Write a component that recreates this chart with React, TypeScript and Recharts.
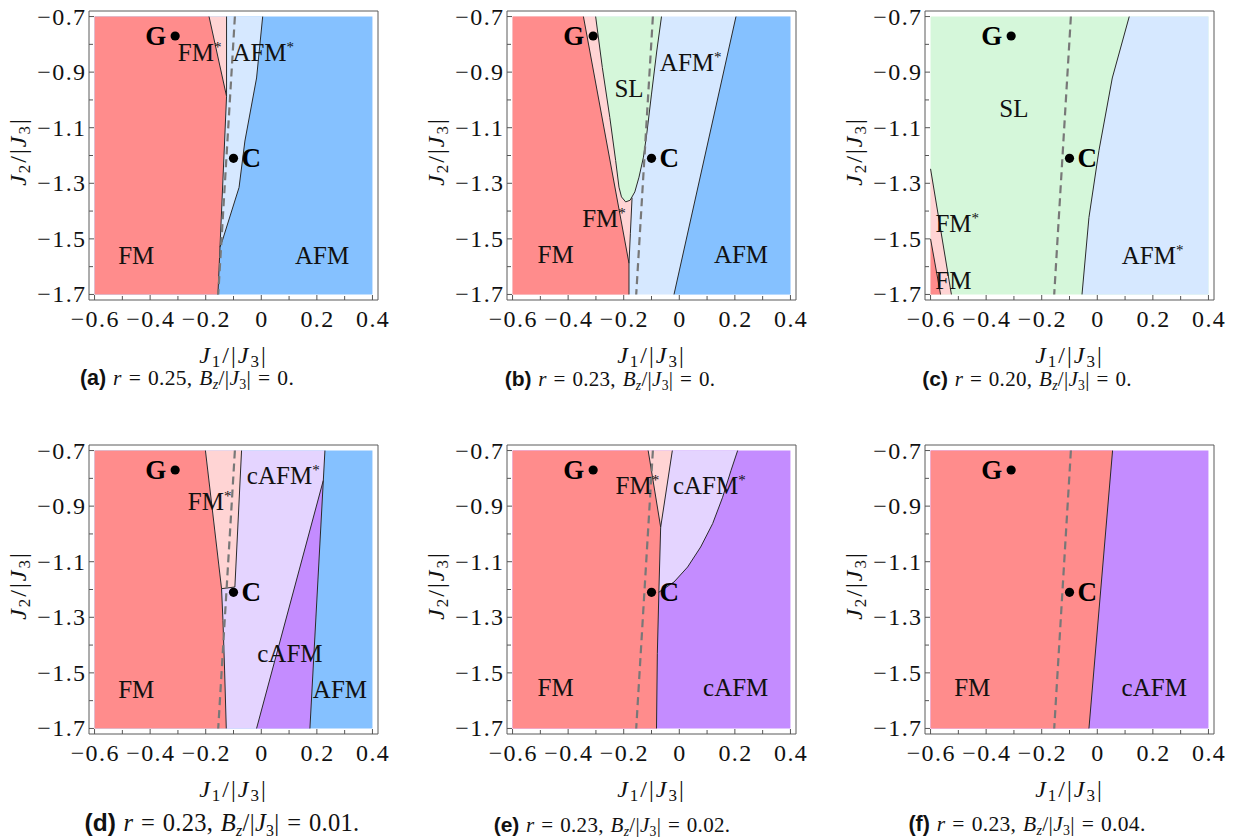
import React from "react";
import { ScatterChart, Scatter, XAxis, YAxis, ReferenceArea, Label } from "recharts";

type Pt = { x: number; y: number };
type Tag = { x: number; y: number; text: string; star?: boolean };

const SERIF = '"Liberation Serif", "DejaVu Serif", serif';
const SANS = '"Liberation Sans", Arial, sans-serif';

const X_TICKS = [-0.6, -0.5, -0.4, -0.3, -0.2, -0.1, 0, 0.1, 0.2, 0.3, 0.4];
const X_LABELS = [-0.6, -0.4, -0.2, 0, 0.2, 0.4];
const Y_TICKS = [-0.7, -0.8, -0.9, -1.0, -1.1, -1.2, -1.3, -1.4, -1.5, -1.6, -1.7];
const Y_LABELS = [-0.7, -0.9, -1.1, -1.3, -1.5, -1.7];

const COLORS = {
  FM: "#ff8c8c",
  FMs: "#ffd4d4",
  AFM: "#85c1ff",
  AFMs: "#d6e8ff",
  SL: "#d5f7da",
  cAFM: "#c48cff",
  cAFMs: "#e4d4ff",
};

const p = (x: number, y: number): Pt => ({ x, y });

const BOX = [p(-0.6, -0.7), p(0.4, -0.7), p(0.4, -1.7), p(-0.6, -1.7)];
const MARKS = [
  { x: -0.31, y: -0.77, text: "G" },
  { x: -0.1, y: -1.21, text: "C" },
];
const DASHED = [p(-0.095, -0.7), p(-0.125, -1.2), p(-0.155, -1.7)];

const LETTERS = ["a", "b", "c", "d", "e", "f"];
const R_VALUES = ["0.25", "0.23", "0.20", "0.23", "0.23", "0.23"];
const BZ_VALUES = ["0", "0", "0", "0.01", "0.02", "0.04"];

// (a)
const A_FM = [p(-0.6, -0.7), p(-0.188, -0.7), p(-0.125, -0.987), p(-0.156, -1.7), p(-0.6, -1.7)];
const A_FMS = [p(-0.188, -0.7), p(-0.125, -0.7), p(-0.125, -0.987)];
const A_AFMS = [p(-0.125, -0.7), p(0.005, -0.7), p(-0.017, -0.921), p(-0.059, -1.148), p(-0.08, -1.315), p(-0.14, -1.506), p(-0.149, -1.53), p(-0.125, -0.987)];
const A_LINE_FM = [p(-0.188, -0.7), p(-0.125, -0.987), p(-0.156, -1.7)];
const A_LINE_MID = [p(-0.125, -0.7), p(-0.125, -0.987)];
const A_LINE_AFM = [p(0.005, -0.7), p(-0.017, -0.921), p(-0.059, -1.148), p(-0.08, -1.315), p(-0.14, -1.506), p(-0.149, -1.53)];
const A_TAGS: Tag[] = [
  { x: -0.222, y: -0.832, text: "FM", star: true },
  { x: 0.007, y: -0.832, text: "AFM", star: true },
  { x: -0.45, y: -1.56, text: "FM" },
  { x: 0.219, y: -1.56, text: "AFM" },
];

// (b)
const B_SL = [p(-0.301, -0.7), p(-0.277, -0.883), p(-0.25, -1.063), p(-0.229, -1.218), p(-0.217, -1.314), p(-0.208, -1.349), p(-0.193, -1.367), p(-0.177, -1.361), p(-0.16, -1.331), p(-0.145, -1.278), p(-0.129, -1.206), p(-0.117, -1.122), p(-0.1, -0.979), p(-0.081, -0.824), p(-0.064, -0.7)];
const B_FM = [p(-0.6, -0.7), p(-0.345, -0.7), p(-0.181, -1.588), p(-0.181, -1.7), p(-0.6, -1.7)];
const B_FMS = [p(-0.6, -0.7), p(-0.301, -0.7), p(-0.277, -0.883), p(-0.25, -1.063), p(-0.229, -1.218), p(-0.217, -1.314), p(-0.208, -1.349), p(-0.193, -1.367), p(-0.17, -1.352), p(-0.176, -1.48), p(-0.181, -1.588), p(-0.181, -1.7), p(-0.6, -1.7)];
const B_AFM = [p(0.204, -0.7), p(0.4, -0.7), p(0.4, -1.7), p(-0.019, -1.7)];
const B_LINE_FM = [p(-0.345, -0.7), p(-0.181, -1.588), p(-0.181, -1.7)];
const B_LINE_FMS = [p(-0.17, -1.352), p(-0.176, -1.48), p(-0.181, -1.588)];
const B_LINE_AFM = [p(0.204, -0.7), p(-0.019, -1.7)];
const B_TAGS: Tag[] = [
  { x: -0.181, y: -0.962, text: "SL" },
  { x: 0.041, y: -0.866, text: "AFM", star: true },
  { x: -0.271, y: -1.427, text: "FM", star: true },
  { x: -0.445, y: -1.558, text: "FM" },
  { x: 0.222, y: -1.558, text: "AFM" },
];

// (c)
const C_AFMS = [p(0.115, -0.7), p(0.4, -0.7), p(0.4, -1.7), p(-0.055, -1.7), p(-0.03, -1.423), p(0.006, -1.182), p(0.054, -0.921)];
const C_FMS = [p(-0.6, -1.248), p(-0.525, -1.7), p(-0.6, -1.7)];
const C_FM = [p(-0.6, -1.5), p(-0.564, -1.7), p(-0.6, -1.7)];
const C_LINE_AFMS = [p(0.115, -0.7), p(0.054, -0.921), p(0.006, -1.182), p(-0.03, -1.423), p(-0.055, -1.7)];
const C_LINE_FMS = [p(-0.6, -1.248), p(-0.525, -1.7)];
const C_LINE_FM = [p(-0.6, -1.5), p(-0.564, -1.7)];
const C_TAGS: Tag[] = [
  { x: -0.3, y: -1.033, text: "SL" },
  { x: -0.504, y: -1.447, text: "FM", star: true },
  { x: -0.518, y: -1.65, text: "FM" },
  { x: 0.199, y: -1.56, text: "AFM", star: true },
];

// (d)
const D_FM = [p(-0.6, -0.7), p(-0.201, -0.7), p(-0.143, -1.197), p(-0.138, -1.311), p(-0.132, -1.49), p(-0.126, -1.7), p(-0.6, -1.7)];
const D_CAFMS = [p(-0.201, -0.7), p(0.229, -0.7), p(0.175, -1.7), p(-0.126, -1.7), p(-0.132, -1.49), p(-0.138, -1.311), p(-0.143, -1.197)];
const D_FMS = [p(-0.201, -0.7), p(-0.071, -0.7), p(-0.095, -1.191), p(-0.143, -1.197)];
const D_CAFM = [p(-0.017, -1.7), p(0.175, -1.7), p(0.223, -0.808)];
const D_LINE_FM = [p(-0.201, -0.7), p(-0.143, -1.197), p(-0.138, -1.311), p(-0.132, -1.49), p(-0.126, -1.7)];
const D_LINE_FMS = [p(-0.071, -0.7), p(-0.095, -1.191), p(-0.143, -1.197)];
const D_LINE_CAFM = [p(-0.017, -1.7), p(0.223, -0.808)];
const D_LINE_AFM = [p(0.229, -0.7), p(0.175, -1.7)];
const D_TAGS: Tag[] = [
  { x: 0.079, y: -0.79, text: "cAFM", star: true },
  { x: -0.186, y: -0.886, text: "FM", star: true },
  { x: 0.103, y: -1.431, text: "cAFM" },
  { x: 0.283, y: -1.562, text: "AFM" },
  { x: -0.45, y: -1.562, text: "FM" },
];

// (e)
const E_FM = [p(-0.6, -0.7), p(-0.112, -0.7), p(-0.067, -0.976), p(-0.073, -1.191), p(-0.079, -1.431), p(-0.082, -1.7), p(-0.6, -1.7)];
const E_FMS = [p(-0.112, -0.7), p(-0.025, -0.7), p(-0.067, -0.976)];
const E_CAFMS = [p(-0.025, -0.7), p(0.21, -0.7), p(0.186, -0.772), p(0.156, -0.868), p(0.12, -0.963), p(0.077, -1.047), p(0.03, -1.119), p(-0.019, -1.173), p(-0.074, -1.21), p(-0.073, -1.191), p(-0.067, -0.976)];
const E_LINE_FM = [p(-0.112, -0.7), p(-0.067, -0.976), p(-0.073, -1.191), p(-0.079, -1.431), p(-0.082, -1.7)];
const E_LINE_FMS = [p(-0.025, -0.7), p(-0.067, -0.976)];
const E_LINE_CAFM = [p(0.21, -0.7), p(0.186, -0.772), p(0.156, -0.868), p(0.12, -0.963), p(0.077, -1.047), p(0.03, -1.119), p(-0.019, -1.173), p(-0.074, -1.21)];
const E_TAGS: Tag[] = [
  { x: -0.151, y: -0.826, text: "FM", star: true },
  { x: 0.108, y: -0.826, text: "cAFM", star: true },
  { x: -0.445, y: -1.556, text: "FM" },
  { x: 0.203, y: -1.556, text: "cAFM" },
];

// (f)
const F_FM = [p(-0.6, -0.7), p(0.055, -0.7), p(-0.03, -1.7), p(-0.6, -1.7)];
const F_LINE = [p(0.055, -0.7), p(-0.03, -1.7)];
const F_TAGS: Tag[] = [
  { x: -0.45, y: -1.556, text: "FM" },
  { x: 0.205, y: -1.556, text: "cAFM" },
];

type Panel = {
  bg: string;
  regions: [Pt[], string][];
  lines: Pt[][];
  tags: Tag[];
};

const PANELS: Panel[] = [
  { bg: COLORS.AFM, regions: [[A_FM, COLORS.FM], [A_FMS, COLORS.FMs], [A_AFMS, COLORS.AFMs]], lines: [A_LINE_FM, A_LINE_MID, A_LINE_AFM], tags: A_TAGS },
  { bg: COLORS.AFMs, regions: [[B_AFM, COLORS.AFM], [B_FMS, COLORS.FMs], [B_FM, COLORS.FM], [B_SL, COLORS.SL]], lines: [B_LINE_FM, B_SL, B_LINE_FMS, B_LINE_AFM], tags: B_TAGS },
  { bg: COLORS.SL, regions: [[C_AFMS, COLORS.AFMs], [C_FMS, COLORS.FMs], [C_FM, COLORS.FM]], lines: [C_LINE_AFMS, C_LINE_FMS, C_LINE_FM], tags: C_TAGS },
  { bg: COLORS.AFM, regions: [[D_FM, COLORS.FM], [D_CAFMS, COLORS.cAFMs], [D_FMS, COLORS.FMs], [D_CAFM, COLORS.cAFM]], lines: [D_LINE_FM, D_LINE_FMS, D_LINE_CAFM, D_LINE_AFM], tags: D_TAGS },
  { bg: COLORS.cAFM, regions: [[E_FM, COLORS.FM], [E_FMS, COLORS.FMs], [E_CAFMS, COLORS.cAFMs]], lines: [E_LINE_FM, E_LINE_FMS, E_LINE_CAFM], tags: E_TAGS },
  { bg: COLORS.cAFM, regions: [[F_FM, COLORS.FM]], lines: [F_LINE], tags: F_TAGS },
];

const COL_LEFT = [0, 418, 836];
const ROW_TOP = [0, 434];
const CAPTION_BASE = [386, 832];
const CAPTION_SIZE = [21.5, 21, 21, 24.5, 21, 21.5];
const CAPTION_CENTER = [187, 192, 191, 222, 194, 191];

const near = (list: number[], v: number) => list.some((t) => Math.abs(t - v) < 1e-6);
const fmt = (v: number) => (Math.abs(v) < 1e-9 ? "0" : (v < 0 ? "\u2212" : "") + Math.abs(v).toFixed(1));

const XTick = (props: any) => {
  const { x, y, payload } = props;
  const major = near(X_LABELS, payload.value);
  return (
    <g>
      <line x1={x} y1={y} x2={x} y2={y - (major ? 5 : 4)} stroke="#555" strokeWidth={1} />
      {major && (
        <text x={x + 0.7} y={y + 27} textAnchor="middle" fontFamily={SERIF} fontSize={24} letterSpacing={1.4} fill="#111">
          {fmt(payload.value)}
        </text>
      )}
    </g>
  );
};

const YTick = (props: any) => {
  const { x, y, payload } = props;
  const major = near(Y_LABELS, payload.value);
  return (
    <g>
      <line x1={x} y1={y} x2={x + (major ? 5 : 4)} y2={y} stroke="#555" strokeWidth={1} />
      {major && (
        <text x={x - 2.5} y={y + 8} textAnchor="end" fontFamily={SERIF} fontSize={24} letterSpacing={1.4} fill="#111">
          {fmt(payload.value)}
        </text>
      )}
    </g>
  );
};

const JLabel = ({ sub }: { sub: string }) => (
  <>
    <tspan fontStyle="italic">J</tspan>
    <tspan fontSize={17} dy={4}>{sub}</tspan>
    <tspan dy={-4}>/|</tspan>
    <tspan fontStyle="italic">J</tspan>
    <tspan fontSize={17} dy={4}>3</tspan>
    <tspan dy={-4}>|</tspan>
  </>
);

const XTitle = (props: any) => {
  const vb = props.viewBox;
  return (
    <text x={vb.x + vb.width / 2} y={vb.y + 63} textAnchor="middle" fontFamily={SERIF} fontSize={24} letterSpacing={2} fill="#111">
      <JLabel sub="1" />
    </text>
  );
};

const YTitle = (props: any) => {
  const vb = props.viewBox;
  const cx = vb.x - 10;
  const cy = vb.y + vb.height / 2 - 4;
  return (
    <text x={cx} y={cy + 7} textAnchor="middle" fontFamily={SERIF} fontSize={24} letterSpacing={2} fill="#111" transform={`rotate(-90 ${cx} ${cy})`}>
      <JLabel sub="2" />
    </text>
  );
};

const Hidden = () => <g />;

const TagShape = (props: any) => {
  const { cx, cy, payload } = props;
  return (
    <text x={cx} y={cy + 8} textAnchor="middle" fontFamily={SERIF} fontSize={25} fill="#111">
      {payload.text}
      {payload.star && (
        <tspan fontSize={15} dy={-9}>
          *
        </tspan>
      )}
    </text>
  );
};

const MarkShape = (props: any) => {
  const { cx, cy, payload } = props;
  const left = payload.text === "G";
  return (
    <g>
      <circle cx={cx} cy={cy} r={4.6} fill="#000" />
      <text
        x={left ? cx - 9 : cx + 8}
        y={cy + 9}
        textAnchor={left ? "end" : "start"}
        fontFamily={SERIF}
        fontWeight="bold"
        fontSize={27}
        fill="#000"
      >
        {payload.text}
      </text>
    </g>
  );
};

function PhasePanel({ panel }: { panel: Panel }) {
  return (
    <ScatterChart width={400} height={380} margin={{ top: 11, right: 22, bottom: 0, left: 29 }}>
      <XAxis
        type="number"
        dataKey="x"
        domain={[-0.62, 0.42]}
        ticks={X_TICKS}
        interval={0}
        tick={<XTick />}
        tickSize={0}
        tickMargin={0}
        tickLine={false}
        axisLine={false}
        height={80}
      >
        <Label content={<XTitle />} />
      </XAxis>
      <YAxis
        type="number"
        dataKey="y"
        domain={[-1.72, -0.68]}
        ticks={Y_TICKS}
        interval={0}
        tick={<YTick />}
        tickSize={0}
        tickMargin={0}
        tickLine={false}
        axisLine={false}
        width={60}
      >
        <Label content={<YTitle />} />
      </YAxis>
      <Scatter data={BOX} line={{ fill: panel.bg, stroke: "none" }} shape={Hidden} isAnimationActive={false} />
      {panel.regions.map(([pts, fill], i) => (
        <Scatter key={`r${i}`} data={pts} line={{ fill, stroke: "none" }} shape={Hidden} isAnimationActive={false} />
      ))}
      {panel.lines.map((pts, i) => (
        <Scatter key={`l${i}`} data={pts} line={{ fill: "none", stroke: "#2a2a2a", strokeWidth: 1 }} shape={Hidden} isAnimationActive={false} />
      ))}
      <Scatter data={DASHED} line={{ fill: "none", stroke: "#787878", strokeWidth: 2.2, strokeDasharray: "8 5" }} shape={Hidden} isAnimationActive={false} />
      <Scatter data={panel.tags} shape={TagShape} isAnimationActive={false} />
      <Scatter data={MARKS} shape={MarkShape} isAnimationActive={false} />
      <ReferenceArea x1={-0.62} x2={0.42} y1={-1.72} y2={-0.68} fill="none" stroke="#5a5a5a" strokeWidth={1} />
    </ScatterChart>
  );
}

const subStyle: React.CSSProperties = { fontSize: "0.65em", position: "relative", top: "0.28em" };

export default function App() {
  return (
    <div style={{ position: "absolute", left: 0, top: 0, width: 1239, height: 840, background: "#fff", overflow: "hidden" }}>
      {PANELS.map((panel, i) => {
        const col = i % 3;
        const row = Math.floor(i / 3);
        const fs = CAPTION_SIZE[i];
        return (
          <React.Fragment key={i}>
            <div style={{ position: "absolute", left: COL_LEFT[col], top: ROW_TOP[row] }}>
              <PhasePanel panel={panel} />
            </div>
            <div
              style={{
                position: "absolute",
                left: COL_LEFT[col] + CAPTION_CENTER[i] - 200,
                top: CAPTION_BASE[row] - 0.837 * fs,
                width: 400,
                textAlign: "center",
                fontFamily: SERIF,
                fontSize: fs,
                lineHeight: `${fs}px`,
                letterSpacing: 0.3,
                wordSpacing: 1.2,
                whiteSpace: "nowrap",
                color: "#111",
              }}
            >
              <b style={{ fontFamily: SANS, letterSpacing: 0 }}>({LETTERS[i]})</b> <i>r</i> = {R_VALUES[i]},{" "}
              <i>B</i>
              <span style={subStyle}>
                <i>z</i>
              </span>
              /|<i>J</i>
              <span style={subStyle}>3</span>| = {BZ_VALUES[i]}.
            </div>
          </React.Fragment>
        );
      })}
    </div>
  );
}
